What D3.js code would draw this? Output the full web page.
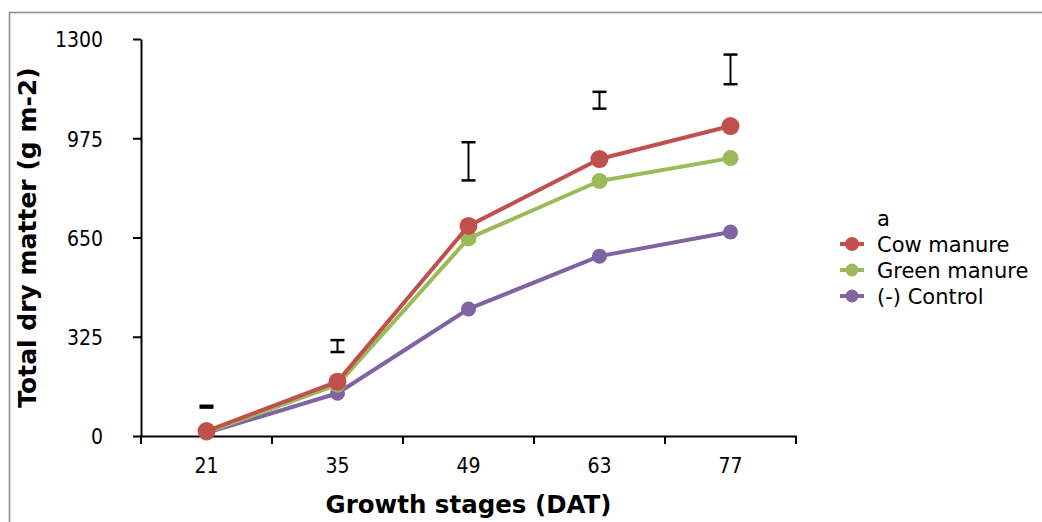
<!DOCTYPE html>
<html>
<head>
<meta charset="utf-8">
<script src="https://cdn.jsdelivr.net/npm/d3@7"></script>
<style>
  html, body { margin: 0; padding: 0; background: #fff; }
  svg { display: block; }
</style>
</head>
<body>
<svg id="chart" width="1042" height="522"></svg>
<script>
// ---- data ----
const categories = ["21", "35", "49", "63", "77"];
const cowManure   = [16, 178, 688, 907, 1015];
const greenManure = [12, 168, 647, 835, 910];
const control     = [10, 140, 416, 589, 668];
const errLower    = [93, 275, 837, 1072, 1152];
const errUpper    = [99, 314, 962, 1127, 1249];
const yTicks      = [0, 325, 650, 975, 1300];
const seriesNames = ["Cow manure", "Green manure", "(-) Control"];
const legendTitle = "a";
const xTitle = "Growth stages (DAT)";
const yTitle = "Total dry matter (g m-2)";

(function () {
const colors = { "Cow manure": "#C0504D", "Green manure": "#9BBB59", "(-) Control": "#8064A2" };
const radius = { "Cow manure": 9, "Green manure": 8, "(-) Control": 7.5 };
const legRadius = { "Cow manure": 7, "Green manure": 6.5, "(-) Control": 6.5 };

const seriesValues = { "Cow manure": cowManure, "Green manure": greenManure, "(-) Control": control };

const svg = d3.select("#chart");

// outer border
svg.append("rect")
  .attr("x", 9.5).attr("y", 12.5).attr("width", 1200).attr("height", 700)
  .attr("fill", "none").attr("stroke", "#8f8f8f").attr("stroke-width", 1.6);

const pL = 141, pR = 796, pT = 39, pB = 436;

const x = d3.scaleBand().domain(categories).range([pL, pR]).padding(0);
const y = d3.scaleLinear().domain([0, 1300]).range([pB, pT]);
const cx = c => x(c) + x.bandwidth() / 2;

const tickFont = "'DejaVu Sans Condensed', 'DejaVu Sans', sans-serif";
const textFont = "'DejaVu Sans', Verdana, sans-serif";

// Y axis
const yAxis = svg.append("g")
  .attr("transform", `translate(${pL},0)`)
  .call(d3.axisLeft(y).tickValues(yTicks).tickSize(8).tickSizeOuter(0).tickPadding(30).tickFormat(d3.format("d")));
yAxis.select(".domain").attr("stroke", "#000").attr("stroke-width", 2);
yAxis.selectAll(".tick line").attr("stroke", "#000").attr("stroke-width", 2);
yAxis.selectAll(".tick text")
  .attr("font-family", tickFont).attr("font-size", 21).attr("fill", "#000").attr("dy", "0.37em");

// X axis (labels)
const xAxis = svg.append("g")
  .attr("transform", `translate(0,${pB})`)
  .call(d3.axisBottom(x).tickSize(0).tickSizeOuter(0).tickPadding(22));
xAxis.select(".domain").attr("stroke", "#000").attr("stroke-width", 2);
xAxis.selectAll(".tick text")
  .attr("font-family", tickFont).attr("font-size", 21).attr("fill", "#000");

// X boundary ticks
const boundaries = categories.map(c => x(c)).concat([x.range()[1]]);
svg.append("g").selectAll("line").data(boundaries).join("line")
  .attr("x1", d => d).attr("x2", d => d)
  .attr("y1", pB).attr("y2", pB + 8)
  .attr("stroke", "#000").attr("stroke-width", 2);

// Error bars
const eb = svg.append("g");
categories.forEach((c, i) => {
  const xc = cx(c);
  eb.append("line").attr("x1", xc).attr("x2", xc)
    .attr("y1", y(errLower[i])).attr("y2", y(errUpper[i]))
    .attr("stroke", "#000").attr("stroke-width", 2);
  [errLower[i], errUpper[i]].forEach(v => {
    eb.append("line").attr("x1", xc - 7).attr("x2", xc + 7)
      .attr("y1", y(v)).attr("y2", y(v))
      .attr("stroke", "#000").attr("stroke-width", 2.5);
  });
});

// Series (draw control first, cow manure on top)
const drawOrder = ["(-) Control", "Green manure", "Cow manure"];
const line = d3.line().x((d, i) => cx(categories[i])).y(d => y(d));
drawOrder.forEach(name => {
  const vals = seriesValues[name];
  const g = svg.append("g");
  g.append("path").attr("d", line(vals))
    .attr("fill", "none").attr("stroke", colors[name]).attr("stroke-width", 4)
    .attr("stroke-linejoin", "round");
  g.selectAll("circle").data(vals).join("circle")
    .attr("cx", (d, i) => cx(categories[i])).attr("cy", d => y(d))
    .attr("r", radius[name]).attr("fill", colors[name]);
});

// Axis titles
svg.append("text")
  .attr("x", (pL + pR) / 2).attr("y", 513)
  .attr("text-anchor", "middle")
  .attr("font-family", textFont).attr("font-weight", "bold").attr("font-size", 24.5)
  .text(xTitle);

svg.append("text")
  .attr("transform", `translate(36,${(pT + pB) / 2}) rotate(-90)`)
  .attr("text-anchor", "middle")
  .attr("font-family", textFont).attr("font-weight", "bold").attr("font-size", 25)
  .text(yTitle);

// Legend
const leg = svg.append("g");
leg.append("text").attr("x", 877).attr("y", 226)
  .attr("font-family", textFont).attr("font-size", 21).text(legendTitle);
seriesNames.forEach((name, i) => {
  const by = 252 + i * 26;
  leg.append("line").attr("x1", 840).attr("x2", 864)
    .attr("y1", by - 8).attr("y2", by - 8)
    .attr("stroke", colors[name]).attr("stroke-width", 4);
  leg.append("circle").attr("cx", 852).attr("cy", by - 8).attr("r", legRadius[name])
    .attr("fill", colors[name]);
  leg.append("text").attr("x", 877).attr("y", by)
    .attr("font-family", textFont).attr("font-size", 21).text(name);
});
})();
</script>
</body>
</html>
